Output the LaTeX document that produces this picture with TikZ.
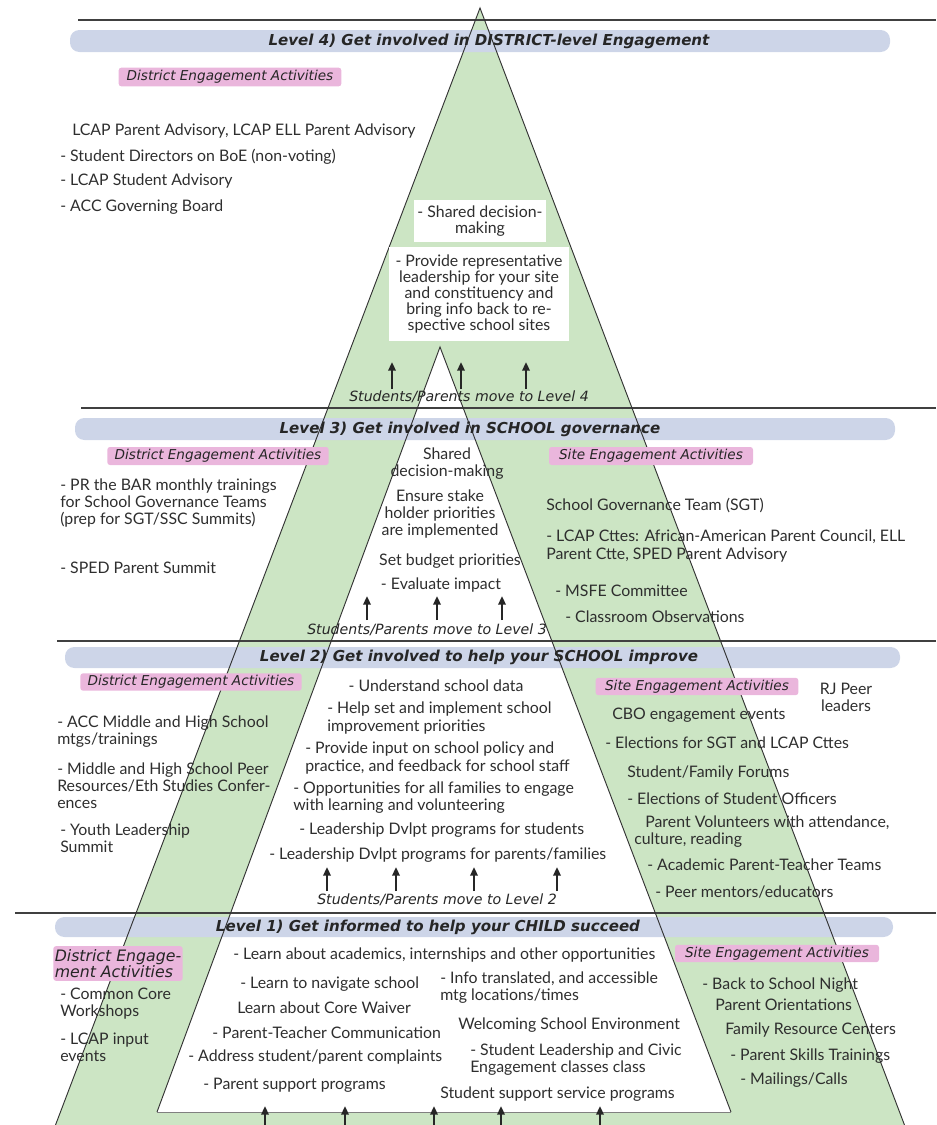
\documentclass[tikz,border=0pt]{standalone}
\usepackage{fontspec}
\setmainfont{Lato}
\newfontfamily\hdfont{DejaVu Sans}
\usetikzlibrary{arrows.meta}
\definecolor{tgreen}{HTML}{CCE5C4}
\definecolor{bannerc}{HTML}{CDD5E8}
\definecolor{pinkc}{HTML}{EAB6DC}
\definecolor{txt}{HTML}{2E2E2E}
\begin{document}
\begin{tikzpicture}[x=0.75pt,y=-0.75pt,
  banner/.style={fill=bannerc, rounded corners=7pt, draw=none},
  bantext/.style={font=\hdfont\bfseries\itshape\fontsize{11.3}{13}\selectfont, text=black!85, inner sep=0pt},
  pinklabel/.style={fill=pinkc, rounded corners=2pt, inner sep=1pt, font=\hdfont\itshape\fontsize{10.2}{11.5}\selectfont, text=black!85},
  body/.style={font=\fontsize{11.9}{12.8}\selectfont, text=txt, inner sep=0pt, align=left, anchor=west},
  cbody/.style={font=\fontsize{11.9}{12.8}\selectfont, text=txt, inner sep=0pt, align=center},
  whitebox/.style={fill=white, inner sep=2pt, align=center, font=\fontsize{11.9}{12}\selectfont, text=txt},
  movetext/.style={font=\hdfont\itshape\fontsize{10.6}{12}\selectfont, text=black!85, inner sep=0pt},
  uparrow/.style={-{Triangle[length=6.5pt,width=5.5pt]}, line width=1.6pt, black!85},
  divider/.style={line width=1.1pt, black!75},
  triline/.style={line width=0.7pt, black!80}
]
\useasboundingbox (0,0) rectangle (936,1125);
\clip (0,0) rectangle (936,1125);
% triangles
\fill[tgreen] (480,8) -- (55.5,1125) -- (904.5,1125) -- cycle;
\fill[white] (440,347) -- (157,1112) -- (731,1112) -- cycle;
% banners
\fill[banner] (70,30) rectangle (890,52);
\fill[banner] (75,418) rectangle (895,440);
\fill[banner] (65,647) rectangle (900,668);
\fill[banner] (55,917) rectangle (893,937);
% divider lines
\draw[divider] (78,20) -- (936,20);
\draw[divider] (81,408) -- (936,408);
\draw[divider] (57,641) -- (936,641);
\draw[divider] (15,913) -- (936,913);
% triangle outlines
\draw[triline] (55.5,1125) -- (480,8) -- (904.5,1125);
\draw[triline] (157,1112) -- (440,347) -- (731,1112);
\draw[line width=0.4pt, black!50] (157,1112) -- (731,1112);
% banner texts
\node[bantext] (b4) at (489,41) {Level 4) Get involved in DISTRICT-level Engagement};
\node[bantext] (b3) at (470,429) {Level 3) Get involved in SCHOOL governance};
\node[bantext] (b2) at (479,657.5) {Level 2) Get involved to help your SCHOOL improve};
\node[bantext] (b1) at (428,927) {Level 1) Get informed to help your CHILD succeed};
% pink labels
\node[pinklabel, minimum width=167pt, minimum height=14pt] (p4d) at (230,77) {District Engagement Activities};
\node[pinklabel, minimum width=166pt, minimum height=13.5pt] (p3d) at (218,456) {District Engagement Activities};
\node[pinklabel, minimum width=153pt, minimum height=13.5pt] (p3s) at (651,456) {Site Engagement Activities};
\node[pinklabel, minimum width=166pt, minimum height=13pt] (p2d) at (191,682) {District Engagement Activities};
\node[pinklabel, minimum width=152pt, minimum height=13pt] (p2s) at (697,686.5) {Site Engagement Activities};
\node[pinklabel, minimum width=97pt, minimum height=26pt, align=left, font=\hdfont\itshape\fontsize{11.8}{12.4}\selectfont] (p1d) at (118,963.5) {District Engage-\\ment Activities};
\node[pinklabel, minimum width=153pt, minimum height=13pt] (p1s) at (777,953.5) {Site Engagement Activities};
% Level 4
\node[body] (t4a) at (72,131) {LCAP Parent Advisory, LCAP ELL Parent Advisory};
\node[body] (t4b) at (60,157) {- Student Directors on BoE (non-voting)};
\node[body] (t4c) at (60,181) {- LCAP Student Advisory};
\node[body] (t4d) at (60,207) {- ACC Governing Board};
\node[whitebox, minimum width=99pt, minimum height=31.5pt] (w4a) at (480,221) {- Shared decision-\\making};
\node[whitebox, minimum width=135pt, minimum height=70pt] (w4b) at (479,294) {- Provide representative\\leadership for your site\\and constituency and\\bring info back to re-\\spective school sites};
\coordinate (a4as) at (392,389); \coordinate (a4ae) at (392,362);
\coordinate (a4bs) at (461,389); \coordinate (a4be) at (461,362);
\coordinate (a4cs) at (526,389); \coordinate (a4ce) at (526,362);
\draw[uparrow] (a4as) -- (a4ae);
\draw[uparrow] (a4bs) -- (a4be);
\draw[uparrow] (a4cs) -- (a4ce);
\node[movetext] (s4) at (469,397) {Students/Parents move to Level 4};
% Level 3
\node[body] (t3a) at (60,503) {- PR the BAR monthly trainings\\for School Governance Teams\\(prep for SGT/SSC Summits)};
\node[body] (t3b) at (60,568) {- SPED Parent Summit};
\node[cbody] (c3a) at (447,464) {Shared\\decision-making};
\node[cbody] (c3b) at (440,514) {Ensure stake\\holder priorities\\are implemented};
\node[cbody] (c3c) at (450,561) {Set budget priorities};
\node[cbody] (c3d) at (441,585) {- Evaluate impact};
\coordinate (a3as) at (367,620); \coordinate (a3ae) at (367,596);
\coordinate (a3bs) at (437,620); \coordinate (a3be) at (437,596);
\coordinate (a3cs) at (502,620); \coordinate (a3ce) at (502,596);
\draw[uparrow] (a3as) -- (a3ae);
\draw[uparrow] (a3bs) -- (a3be);
\draw[uparrow] (a3cs) -- (a3ce);
\node[movetext] (s3) at (427,630) {Students/Parents move to Level 3};
\node[body] (r3a) at (546,506) {School Governance Team (SGT)};
\node[body] (r3b) at (546,546) {- LCAP Cttes: African-American Parent Council, ELL\\Parent Ctte, SPED Parent Advisory};
\node[body] (r3c) at (555,591) {- MSFE Committee};
\node[body] (r3d) at (565,617) {- Classroom Observations};
% Level 2
\node[body] (t2a) at (57,732) {- ACC Middle and High School\\mtgs/trainings};
\node[body] (t2b) at (57,786) {- Middle and High School Peer\\Resources/Eth Studies Confer-\\ences};
\node[body] (t2c) at (60,838) {- Youth Leadership\\Summit};
\node[cbody] (c2a) at (436,686) {- Understand school data};
\node[body] (c2b) at (327,718) {- Help set and implement school\\improvement priorities};
\node[body] (c2c) at (305,758) {- Provide input on school policy and\\practice, and feedback for school staff};
\node[body] (c2d) at (293,798) {- Opportunities for all families to engage\\with learning and volunteering};
\node[body] (c2e) at (299,830) {- Leadership Dvlpt programs for students};
\node[body] (c2f) at (269,855) {- Leadership Dvlpt programs for parents/families};
\coordinate (a2as) at (327,891); \coordinate (a2ae) at (327,867);
\coordinate (a2bs) at (396,891); \coordinate (a2be) at (396,867);
\coordinate (a2cs) at (474,891); \coordinate (a2ce) at (474,867);
\coordinate (a2ds) at (557,891); \coordinate (a2de) at (557,867);
\draw[uparrow] (a2as) -- (a2ae);
\draw[uparrow] (a2bs) -- (a2be);
\draw[uparrow] (a2cs) -- (a2ce);
\draw[uparrow] (a2ds) -- (a2de);
\node[movetext] (s2) at (437,900) {Students/Parents move to Level 2};
\node[cbody] (rj) at (846,697) {RJ Peer\\leaders};
\node[body] (r2a) at (612,715) {CBO engagement events};
\node[body] (r2b) at (605,743) {- Elections for SGT and LCAP Cttes};
\node[body] (r2c) at (627,773) {Student/Family Forums};
\node[body] (r2d) at (627,799) {- Elections of Student Officers};
\node[body] (r2e) at (645,823) {Parent Volunteers with attendance,};
\node[body] (r2f) at (634,840) {culture, reading};
\node[body] (r2g) at (647,865) {- Academic Parent-Teacher Teams};
\node[body] (r2h) at (655,892) {- Peer mentors/educators};
% Level 1
\node[body] (t1a) at (60,1004) {- Common Core\\Workshops};
\node[body] (t1b) at (60,1047) {- LCAP input\\events};
\node[body] (c1a) at (233,955) {- Learn about academics, internships and other opportunities};
\node[body] (c1b) at (240,984) {- Learn to navigate school};
\node[body] (c1c) at (237,1008) {Learn about Core Waiver};
\node[body] (c1d) at (212,1033) {- Parent-Teacher Communication};
\node[body] (c1e) at (188,1057) {- Address student/parent complaints};
\node[body] (c1f) at (203,1085) {- Parent support programs};
\node[body] (c1g) at (440,988) {- Info translated, and accessible\\mtg locations/times};
\node[body] (c1h) at (458,1025) {Welcoming School Environment};
\node[body] (c1i) at (470,1060) {- Student Leadership and Civic\\Engagement classes class};
\node[body] (c1j) at (440,1094) {Student support service programs};
\coordinate (a1as) at (265,1135); \coordinate (a1ae) at (265,1106);
\coordinate (a1bs) at (345,1135); \coordinate (a1be) at (345,1106);
\coordinate (a1cs) at (434,1135); \coordinate (a1ce) at (434,1106);
\coordinate (a1ds) at (501,1135); \coordinate (a1de) at (501,1106);
\coordinate (a1es) at (600,1135); \coordinate (a1ee) at (600,1106);
\draw[uparrow] (a1as) -- (a1ae);
\draw[uparrow] (a1bs) -- (a1be);
\draw[uparrow] (a1cs) -- (a1ce);
\draw[uparrow] (a1ds) -- (a1de);
\draw[uparrow] (a1es) -- (a1ee);
\node[body] (r1a) at (702,985) {- Back to School Night};
\node[body] (r1b) at (715,1005) {Parent Orientations};
\node[body] (r1c) at (725,1030) {Family Resource Centers};
\node[body] (r1d) at (730,1056) {- Parent Skills Trainings};
\node[body] (r1e) at (740,1080) {- Mailings/Calls};
\end{tikzpicture}
\end{document}
